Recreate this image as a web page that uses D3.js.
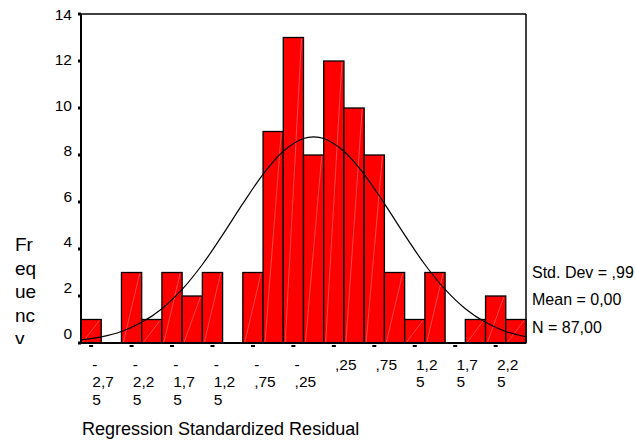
<!DOCTYPE html>
<html>
<head>
<meta charset="utf-8">
<script src="https://cdn.jsdelivr.net/npm/d3@7"></script>
<style>
  body { margin: 0; background: #fff; }
  text { font-family: Arial, "Liberation Sans", sans-serif; fill: #000; }
</style>
</head>
<body>
<div id="hist"></div>
<script>

// histogram bins (midpoints) and counts
var binWidth = 0.25;
var binMids = [-2.75, -2.5, -2.25, -2, -1.75, -1.5, -1.25, -1, -0.75, -0.5, -0.25,
               0, 0.25, 0.5, 0.75, 1, 1.25, 1.5, 1.75, 2, 2.25, 2.5];
var counts  = [1, 0, 3, 1, 3, 2, 3, 0, 3, 9, 13, 8, 12, 10, 8, 3, 1, 3, 0, 1, 2, 1];

// x tick positions and their (wrapped) labels
var xTicks = [-2.75, -2.25, -1.75, -1.25, -0.75, -0.25, 0.25, 0.75, 1.25, 1.75, 2.25];
var xTickLabels = [["-", "2,7", "5"], ["-", "2,2", "5"], ["-", "1,7", "5"], ["-", "1,2", "5"],
                   ["-", ",75"], ["-", ",25"], [",25"], [",75"], ["1,2", "5"], ["1,7", "5"], ["2,2", "5"]];

var yTicks = [0, 2, 4, 6, 8, 10, 12, 14];

// normal curve
var curveX = [-2.875, -2.625, -2.375, -2.125, -1.875, -1.625, -1.375, -1.125, -0.875, -0.625, -0.375, -0.125,
              0, 0.125, 0.375, 0.625, 0.875, 1.125, 1.375, 1.625, 1.875, 2.125, 2.375, 2.625];
var curveY = [0.13, 0.26, 0.49, 0.88, 1.46, 2.28, 3.34, 4.6, 5.93, 7.18, 8.16, 8.7,
              8.77, 8.7, 8.16, 7.18, 5.93, 4.6, 3.34, 2.28, 1.46, 0.88, 0.49, 0.26];

var statLines = ["Std. Dev = ,99", "Mean = 0,00", "N = 87,00"];
var yTitle = ["Fr", "eq", "ue", "nc", "y"];
var xTitle = "Regression Standardized Residual";

var svg = d3.select("#hist").append("svg").attr("width", 636).attr("height", 446),
    pLeft = 81, pRight = 526, pTop = 14, pBottom = 343;

var x = d3.scaleLinear()
  .domain([binMids[0] - binWidth / 2, binMids[binMids.length - 1] + binWidth / 2])
  .range([pLeft, pRight]);

var y = d3.scaleLinear().domain([0, 14]).range([pBottom, pTop]);
// SPSS spreads the y labels a bit tighter than the ticks
var yLab = d3.scaleLinear().domain([0, 14]).range([333, 14]);

var bins = binMids.map((m, i) => ({mid: m, n: counts[i]})).filter(d => d.n > 0);

// bars
svg.append("g").selectAll("rect")
  .data(bins).enter().append("rect")
    .attr("x", d => x(d.mid - binWidth / 2))
    .attr("y", d => y(d.n))
    .attr("width", d => x(d.mid + binWidth / 2) - x(d.mid - binWidth / 2))
    .attr("height", d => y(0) - y(d.n))
    .attr("fill", "#ff0000")
    .attr("stroke", "#000")
    .attr("stroke-width", 1.3);

// faint diagonal hatch line in each bar
svg.append("g").selectAll("line")
  .data(bins).enter().append("line")
    .attr("x1", d => x(d.mid - binWidth / 2) + 2)
    .attr("y1", y(0) - 1)
    .attr("x2", d => x(d.mid + binWidth / 2) - 2)
    .attr("y2", d => y(d.n) + 1)
    .attr("stroke", "#ff7a7a")
    .attr("stroke-width", 0.6);

// frame
svg.append("line").attr("x1", pLeft).attr("x2", pRight).attr("y1", pTop).attr("y2", pTop)
  .attr("stroke", "#000").attr("stroke-width", 1.5);
svg.append("line").attr("x1", pRight).attr("x2", pRight).attr("y1", pTop).attr("y2", pBottom)
  .attr("stroke", "#000").attr("stroke-width", 1.5);
svg.append("line").attr("x1", pLeft).attr("x2", pLeft).attr("y1", pTop).attr("y2", pBottom + 1)
  .attr("stroke", "#000").attr("stroke-width", 2);
svg.append("line").attr("x1", pLeft).attr("x2", pRight).attr("y1", pBottom).attr("y2", pBottom)
  .attr("stroke", "#000").attr("stroke-width", 2);

// normal curve
var line = d3.line()
  .x((d, i) => x(d))
  .y((d, i) => y(curveY[i]))
  .curve(d3.curveCatmullRom);

svg.append("path")
  .attr("d", line(curveX))
  .attr("fill", "none")
  .attr("stroke", "#000")
  .attr("stroke-width", 1.2);

// y ticks + labels
svg.append("g").selectAll("rect")
  .data(yTicks).enter().append("rect")
    .attr("x", pLeft - 3).attr("y", d => y(d) - 1.5)
    .attr("width", 3).attr("height", 3).attr("fill", "#000");

svg.append("g").selectAll("text")
  .data(yTicks).enter().append("text")
    .attr("x", 72).attr("y", d => yLab(d))
    .attr("dy", "0.36em")
    .attr("text-anchor", "end")
    .style("font-size", "15.5px")
    .text(d => d);

// x ticks + labels
svg.append("g").selectAll("rect")
  .data(xTicks).enter().append("rect")
    .attr("x", d => x(d) - 2).attr("y", pBottom + 2)
    .attr("width", 4).attr("height", 2).attr("fill", "#000");

var lab = svg.append("g").selectAll("text")
  .data(xTicks).enter().append("text")
    .style("font-size", "15.5px")
    .attr("x", d => x(d) + 5);

lab.selectAll("tspan")
  .data((d, i) => xTickLabels[i]).enter().append("tspan")
    .attr("x", function() { return this.parentNode.getAttribute("x"); })
    .attr("y", (d, i) => 369.5 + i * 17.8)
    .text(d => d);

// left-align lines and centre the block on tick + 12
lab.each(function(d) {
  var w = this.getBBox().width;
  var x0 = x(d) + 12 - w / 2;
  d3.select(this).attr("x", x0).selectAll("tspan").attr("x", x0);
});

// axis titles
svg.append("text")
  .attr("x", 82).attr("y", 435)
  .style("font-size", "18px")
  .text(xTitle);

svg.append("clipPath").attr("id", "ytclip")
  .append("rect").attr("x", 0).attr("y", 0).attr("width", 70).attr("height", 344);

svg.append("g").attr("clip-path", "url(#ytclip)")
  .append("text")
    .style("font-size", "19px")
  .selectAll("tspan")
  .data(yTitle).enter().append("tspan")
    .attr("x", 15)
    .attr("y", (d, i) => 251 + i * 23.5)
    .text(d => d);

// stats box text
svg.append("g").selectAll("text")
  .data(statLines).enter().append("text")
    .attr("x", 532)
    .attr("y", (d, i) => 277.5 + i * 27.6)
    .style("font-size", "16px")
    .text(d => d);

</script>
</body>
</html>
